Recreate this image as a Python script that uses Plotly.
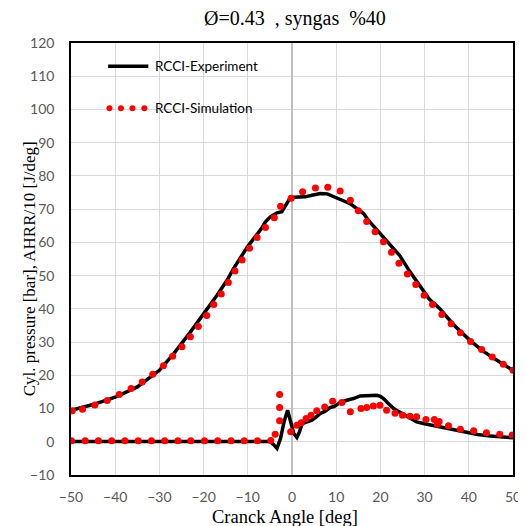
import plotly.graph_objects as go

# ============================================
# DATA
# ============================================

# Cylinder pressure - experiment (solid line)
exp_p_angle = [-50, -45, -40, -35, -30, -26.7, -23, -20, -17, -14.7, -13.2, -10, -8.7, -7, -6, -4.9,
               -3.4, -2.3, -1.5, -0.4, 0.5, 1.9, 3, 4.5, 6.4, 8, 10.2, 12, 13.2, 14.5, 16.2, 17.3,
               19, 20.5, 22, 24.4, 26.5, 29, 31, 33.5, 36.5, 40.2, 43, 46, 48, 50]
exp_p = [9.5, 11.2, 13.4, 16.5, 21.5, 26.6, 33.0, 38.3, 44.0, 48.6, 52.2, 58.8, 61.0, 64.0, 66.2, 67.7,
         68.9, 69.2, 71.0, 73.4, 73.6, 73.7, 73.7, 74.2, 74.7, 74.6, 73.2, 72.3, 71.6, 70.2, 68.7, 66.6,
         64.0, 61.6, 59.3, 56.0, 51.5, 46.6, 43.0, 40.0, 35.3, 30.6, 27.5, 24.8, 23.2, 21.5]

# Cylinder pressure - simulation (dotted)
sim_p_angle = [-49.7, -47.4, -44.6, -41.8, -39.1, -36.4, -33.9, -31.5, -29.1, -27.0, -24.9, -23.0,
               -21.2, -19.3, -17.7, -16.0, -14.4, -12.9, -11.3, -9.6, -7.9, -6.0, -4.0, -2.6, -0.2,
               2.4, 5.3, 8.1, 10.9, 13.2, 15.0, 16.9, 18.8, 20.7, 22.5, 24.2, 26.1, 28.0, 29.9, 31.8,
               33.9, 36.0, 38.1, 40.4, 42.9, 45.3, 47.8, 50.0]
sim_p = [9.3, 9.8, 11.1, 12.4, 14.2, 16.0, 18.0, 20.3, 22.9, 25.7, 28.6, 31.6,
         34.7, 38.0, 41.3, 44.5, 47.9, 51.4, 54.7, 58.2, 61.5, 64.5, 67.4, 70.9, 73.3,
         75.2, 76.4, 76.6, 75.5, 72.7, 69.5, 66.3, 63.2, 60.2, 57.0, 53.7, 50.5, 47.3, 44.1, 41.3,
         38.3, 35.5, 32.8, 30.2, 27.8, 25.5, 23.3, 21.5]

# AHRR/10 - experiment (solid line)
exp_hrr_angle = [-50, -40, -30, -20, -10, -5, -4.2, -3.4, -2.6, -1.8, -1.0, -0.3, 0.4, 1.1, 1.7, 2.3,
                 3.2, 4.5, 5.5, 6.4, 7.5, 8.6, 9.5, 10.9, 12.4, 13.9, 15.4, 17, 19.2, 20.0, 20.7,
                 21.8, 23, 24.5, 26, 28.2, 30, 33.5, 36.5, 39.5, 42, 44.8, 47, 50]
exp_hrr = [0.1, 0.1, 0.1, 0.1, 0.1, 0.1, -0.8, -2.0, 1.0, 6.0, 9.5, 6.0, 2.5, 1.3, 3.0, 5.5,
           6.0, 6.5, 7.5, 8.5, 9.2, 10.3, 10.6, 11.8, 12.5, 13.0, 13.8, 13.9, 14.0, 13.7, 13.0,
           11.5, 10.0, 8.8, 7.7, 6.0, 5.4, 4.5, 3.5, 2.7, 2.2, 1.7, 1.5, 1.2]

# AHRR/10 - simulation (dotted)
sim_hrr_angle = [-49.9, -46.8, -43.8, -40.8, -37.8, -34.8, -31.8, -28.8, -25.8, -22.9, -19.8, -16.8,
                 -13.8, -10.8, -7.8, -4.8, -3.8, -2.8, -2.8, -2.8, -0.3, 1.1, 2.1, 3.2, 4.3, 5.6, 7.4,
                 9.2, 11.3, 13.2, 15.6, 16.9, 18.4, 19.9, 21.4, 23.3, 25.0, 26.7, 28.2, 30.3, 32.2,
                 32.9, 33.3, 35.4, 38.1, 41.1, 44.0, 47.0, 49.8]
sim_hrr = [0.3, 0.3, 0.3, 0.3, 0.3, 0.3, 0.3, 0.3, 0.3, 0.3, 0.3, 0.3,
           0.3, 0.3, 0.3, 0.4, 2.3, 6.3, 10.3, 14.2, 3.0, 5.0, 5.7, 7.0, 8.0, 9.3, 10.5,
           12.2, 11.8, 9.0, 10.0, 10.3, 10.8, 11.0, 9.5, 8.6, 8.0, 7.7, 7.5, 6.7, 6.7,
           5.3, 6.1, 4.8, 3.8, 3.3, 2.7, 2.3, 2.0]

# Axis ticks
x_ticks = list(range(-50, 51, 10))
y_ticks = list(range(-10, 121, 10))

EXP_COLOR = "black"
SIM_COLOR = "#ff0000"
GRID = "#d9d9d9"
TICK_FONT = dict(family="Lato", size=14, color="#595959")
SERIF = "Liberation Serif"

fig = go.Figure()

# pressure
fig.add_trace(go.Scatter(x=exp_p_angle, y=exp_p, mode="lines",
                         line=dict(color=EXP_COLOR, width=3.5), showlegend=False))
fig.add_trace(go.Scatter(x=sim_p_angle, y=sim_p, mode="markers",
                         marker=dict(color=SIM_COLOR, size=7), showlegend=False))

# heat release
fig.add_trace(go.Scatter(x=exp_hrr_angle, y=exp_hrr, mode="lines",
                         line=dict(color=EXP_COLOR, width=3.5), showlegend=False))
fig.add_trace(go.Scatter(x=sim_hrr_angle, y=sim_hrr, mode="markers",
                         marker=dict(color=SIM_COLOR, size=7), showlegend=False))

# ============================================
# LEGEND (drawn by hand: Excel-style dotted sample)
# ============================================
fig.add_shape(type="line", xref="paper", yref="paper", x0=0.084, x1=0.175, y0=0.946, y1=0.946,
              line=dict(color=EXP_COLOR, width=3.5))
for cx in [0.087, 0.113, 0.139, 0.166]:
    fig.add_shape(type="circle", xref="paper", yref="paper",
                  x0=cx - 0.0068, x1=cx + 0.0068, y0=0.849 - 0.007, y1=0.849 + 0.007,
                  fillcolor=SIM_COLOR, line=dict(width=0))

legend_font = dict(family="Lato", size=13.5, color="black")
fig.add_annotation(x=0.186, y=0.946, xref="paper", yref="paper", text="RCCI-Experiment",
                   showarrow=False, xanchor="left", yanchor="middle", font=legend_font)
fig.add_annotation(x=0.186, y=0.849, xref="paper", yref="paper", text="RCCI-Simulation",
                   showarrow=False, xanchor="left", yanchor="middle", font=legend_font)

# axis titles placed as annotations so they sit where the Excel ones do
fig.add_annotation(x=0.484, y=-0.098, xref="paper", yref="paper", text="Cranck Angle [deg]",
                   showarrow=False, xanchor="center", yanchor="middle",
                   font=dict(family=SERIF, size=18.5, color="black"))
fig.add_annotation(x=-0.092, y=0.477, xref="paper", yref="paper",
                   text="Cyl. pressure [bar], AHRR/10 [J/deg]", textangle=-90,
                   showarrow=False, xanchor="center", yanchor="middle",
                   font=dict(family=SERIF, size=17, color="black"))

# page body adds an 8px offset, so the figure is 518 px and margins are shifted
fig.update_layout(
    width=518,
    height=518,
    template="plotly_white",
    plot_bgcolor="white",
    paper_bgcolor="white",
    margin=dict(l=63, r=13, t=35, b=51, autoexpand=False),
    title=dict(text="Ø=0.43  , syngas  %40", x=0.554, xanchor="center", y=0.981, yanchor="middle",
               font=dict(family=SERIF, size=20, color="black")),
    showlegend=False,
)

fig.update_xaxes(
    range=[-50, 50], tickvals=x_ticks, ticks="", tickfont=TICK_FONT,
    showgrid=True, gridcolor=GRID, gridwidth=1,
    zeroline=True, zerolinecolor="#bfbfbf", zerolinewidth=1.5,
    showline=True, linecolor="black", linewidth=1.5, mirror=True,
    ticklabelstandoff=8, automargin=False,
)
fig.update_yaxes(
    range=[-10, 120], tickvals=y_ticks, ticks="", tickfont=TICK_FONT,
    showgrid=True, gridcolor=GRID, gridwidth=1, zeroline=False,
    showline=True, linecolor="black", linewidth=1.5, mirror=True,
    ticklabelstandoff=12, automargin=False,
)

fig.write_html("out.html")
